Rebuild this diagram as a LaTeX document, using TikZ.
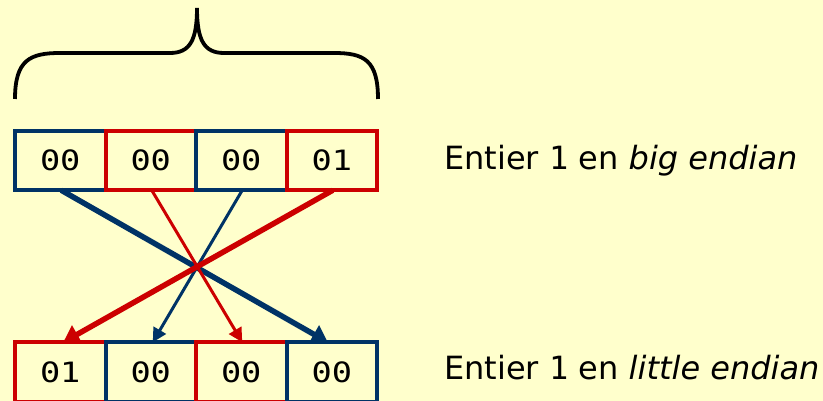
\documentclass[tikz,border=0pt]{standalone}
\usepackage{fontspec}
\setmainfont{DejaVu Sans}
\newfontfamily\monof[FakeStretch=1.2]{DejaVu Sans Mono}
\newfontfamily\monot{DejaVu Sans Mono}
\usetikzlibrary{arrows.meta}
\definecolor{bg}{HTML}{FFFFCC}
\definecolor{navy}{HTML}{003366}
\definecolor{rouge}{HTML}{CC0000}
\tikzset{
  cell/.style={draw, line width=4pt, minimum width=90.5pt, minimum height=59.5pt,
    inner sep=0pt, outer sep=0pt, font=\monof\fontsize{28}{32}\selectfont},
  bluecell/.style={cell, draw=navy},
  redcell/.style={cell, draw=rouge},
  thickarr/.style={line width=5.5pt, -{Triangle[length=16pt,width=20pt]}},
  thinarr/.style={line width=3pt, -{Triangle[length=14pt,width=14pt]}},
  lab/.style={anchor=base west, inner sep=0pt, font=\fontsize{32}{38}\selectfont}
}
\begin{document}
\begin{tikzpicture}[x=1pt,y=1pt]
\fill[bg] (0,0) rectangle (823,401);
\useasboundingbox (0,0) rectangle (823,401);
% brace
\draw[line width=3.8pt] (15,302) .. controls (15,341) and (30,348) .. (60,348) -- (170,348)
  .. controls (190,348) and (197,361) .. (197,393)
  .. controls (197,361) and (204,348) .. (224,348) -- (334,348)
  .. controls (364,348) and (378,341) .. (378,302);
% top row
\node[bluecell] (t1) at (60.25,240.5) {00};
\node[redcell]  (t2) at (150.75,240.5) {00};
\node[bluecell] (t3) at (241.25,240.5) {00};
\node[redcell]  (t4) at (331.75,240.5) {01};
% bottom row
\node[redcell]  (b1) at (60.25,29) {01};
\node[bluecell] (b2) at (150.75,29) {00};
\node[redcell]  (b3) at (241.25,29) {00};
\node[bluecell] (b4) at (331.75,29) {00};
% arrows
\draw[thickarr, navy]  ([xshift=1pt]t1.south) -- ([xshift=-4pt]b4.north);
\draw[thinarr, rouge]  ([xshift=1pt]t2.south) -- ([xshift=1pt]b3.north);
\draw[thinarr, navy]   ([xshift=1pt]t3.south) -- ([xshift=2pt]b2.north);
\draw[thickarr, rouge] ([xshift=1pt]t4.south) -- ([xshift=3pt]b1.north);
% labels
\node[lab] (l1) at (444,231) {Entier {\monot 1} en \textit{big endian}};
\node[lab] (l2) at (444,21) {Entier {\monot 1} en \textit{little endian}};
\end{tikzpicture}
\end{document}
